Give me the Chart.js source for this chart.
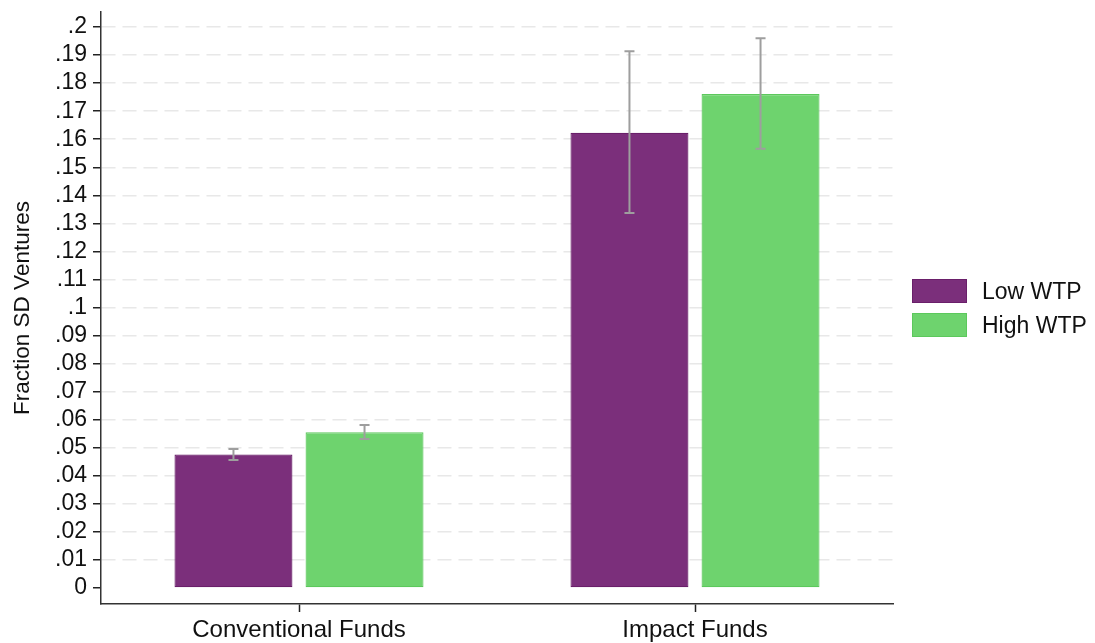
<!DOCTYPE html>
<html>
<head>
<meta charset="utf-8">
<script src="https://cdn.jsdelivr.net/npm/chart.js@4"></script>
<style>
  html, body { margin: 0; padding: 0; background: #fff; }
  #wrap { position: relative; width: 1095px; height: 643px; }
  #legend { position: absolute; left: 912px; top: 279px; font-family: "Liberation Sans", Arial, sans-serif; font-size: 23px; color: #111; }
  .item { display: flex; align-items: center; height: 24px; margin-bottom: 10px; }
  .box { width: 53px; height: 22px; margin-right: 15px; border: 1px solid; }
</style>
</head>
<body>
<div id="wrap">
  <canvas id="chart" width="1095" height="643"></canvas>
  <div id="legend"></div>
</div>
<script>
// categories and values
const categories = ['Conventional Funds', 'Impact Funds'];
const seriesNames = ['Low WTP', 'High WTP'];
const lowWTP = [0.0476, 0.1623];
const highWTP = [0.0555, 0.1761];
// confidence intervals (upper / lower)
const lowUpper = [0.0496, 0.1914];
const lowLower = [0.0456, 0.1337];
const highUpper = [0.0581, 0.1960];
const highLower = [0.0531, 0.1566];
const yTicks = [0, .01, .02, .03, .04, .05, .06, .07, .08, .09, .1, .11, .12, .13, .14, .15, .16, .17, .18, .19, .2];

const fillColors = ['#7b2f7b', '#6ed36e'];
const edgeColors = ['#6a1f6a', '#5cc85c'];
const FONT = '"Liberation Sans", Arial, sans-serif';

function fmt(v) {
    if (Math.abs(v) < 1e-9) return '0';
    return v.toFixed(2).replace(/0+$/, '').replace(/^0/, '');
}

// draws the grey error bars on top of the bars
const errorBars = {
    id: 'errorBars',
    afterDatasetsDraw(chart) {
        const ctx = chart.ctx;
        const y = chart.scales.y;
        const bounds = [[lowLower, lowUpper], [highLower, highUpper]];
        ctx.save();
        ctx.strokeStyle = '#9e9e9e';
        ctx.lineWidth = 2;
        chart.data.datasets.forEach((ds, d) => {
            const meta = chart.getDatasetMeta(d);
            meta.data.forEach((bar, i) => {
                const top = y.getPixelForValue(bounds[d][1][i]);
                const bot = y.getPixelForValue(bounds[d][0][i]);
                ctx.beginPath();
                ctx.moveTo(bar.x, top); ctx.lineTo(bar.x, bot);
                ctx.moveTo(bar.x - 5, top); ctx.lineTo(bar.x + 5, top);
                ctx.moveTo(bar.x - 5, bot); ctx.lineTo(bar.x + 5, bot);
                ctx.stroke();
            });
        });
        ctx.restore();
    }
};

const chart = new Chart(document.getElementById('chart'), {
    type: 'bar',
    data: {
        labels: categories,
        datasets: [lowWTP, highWTP].map((vals, i) => ({
            label: seriesNames[i],
            data: vals,
            backgroundColor: fillColors[i],
            borderColor: edgeColors[i],
            borderWidth: 1.2,
            borderSkipped: false,
            categoryPercentage: 0.662,
            barPercentage: 0.9
        }))
    },
    options: {
        responsive: false,
        animation: false,
        layout: { padding: { top: 12, right: 202, left: 0, bottom: 0 } },
        plugins: { legend: { display: false }, tooltip: { enabled: false } },
        scales: {
            x: {
                grid: { display: true, drawOnChartArea: false, offset: false, tickLength: 8, tickColor: '#222', tickWidth: 1.5 },
                border: { color: '#333', width: 1.5 },
                ticks: { color: '#111', font: { family: FONT, size: 24 }, padding: 4 },
                afterFit(scale) { scale.height = 39; }
            },
            y: {
                min: -0.0057,
                max: 0.20535,
                afterBuildTicks(scale) { scale.ticks = yTicks.map(v => ({ value: v })); },
                grid: {
                    color: ctx => (ctx.tick && ctx.tick.value === 0) ? 'rgba(0,0,0,0)' : '#e8e8e8',
                    lineWidth: 1.5,
                    tickLength: 8,
                    tickColor: '#222',
                    tickWidth: 1.5
                },
                border: { color: '#333', width: 1.5, dash: [14, 7] },
                ticks: { color: '#111', font: { family: FONT, size: 23 }, padding: 6, autoSkip: false, callback: v => fmt(v) },
                title: { display: true, text: 'Fraction SD Ventures', color: '#111', font: { family: FONT, size: 22.5 }, padding: { top: 9, bottom: 0 } },
                afterFit(scale) {
                    scale.width = 101;
                    scale.paddingTop = 0;
                    scale.paddingBottom = 0;
                }
            }
        }
    },
    plugins: [errorBars]
});

// legend built from the datasets
const legend = document.getElementById('legend');
chart.data.datasets.forEach((ds, i) => {
    const row = document.createElement('div');
    row.className = 'item';
    const box = document.createElement('span');
    box.className = 'box';
    box.style.background = ds.backgroundColor;
    box.style.borderColor = ds.borderColor;
    const txt = document.createElement('span');
    txt.textContent = ds.label;
    row.appendChild(box);
    row.appendChild(txt);
    legend.appendChild(row);
});
</script>
</body>
</html>
